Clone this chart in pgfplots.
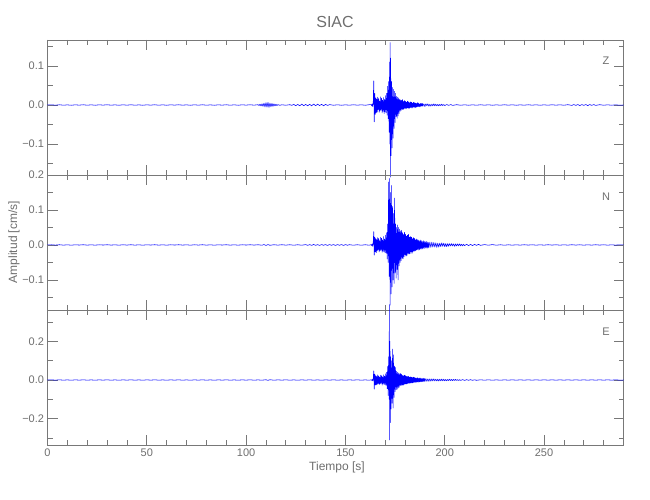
\documentclass[border=0pt]{standalone}
\usepackage{pgfplots}
\pgfplotsset{compat=1.18}
\usepackage{fontspec}
\setmainfont{Liberation Sans}
\definecolor{axgray}{RGB}{120,120,120}
\definecolor{txtgray}{RGB}{110,110,110}
\pgfplotsset{
  seis/.style={
    scale only axis, width=576pt, height=135pt,
    xmin=0, xmax=290, clip=false,
    axis line style={draw=axgray, line width=0.8pt},
    every tick/.style={draw=axgray, line width=0.8pt},
    tick align=inside,
    major tick length=10pt, minor tick length=5pt,
    xtick={0,50,...,250}, minor xtick={0,10,...,280},
    xtick pos=both, ytick pos=both, yticklabel pos=left, xticklabel pos=bottom,
    tick label style={font=\fontsize{11}{11}\selectfont, text=txtgray},
    /pgf/number format/assume math mode=true,
  },
  trace/.style={blue, line width=0.55pt, line join=round}
}
\begin{document}
\begin{tikzpicture}
\useasboundingbox (0,0) rectangle (650pt,500pt);
% ---------------- Z ----------------
\begin{axis}[seis, at={(47.5pt,325pt)}, anchor=south west,
  ymin=-0.1795, ymax=0.1667,
  ytick={-0.1,0,0.1}, yticklabels={−0.1,0.0,0.1},
  minor ytick={-0.15,-0.05,0.05,0.15},
  xticklabels={}]
\addplot[trace] table {
t v
0 0.000
2 0.0005
4 -0.0004
6 0.0006
8 -0.0005
10 0.0003
12 -0.0006
14 0.0004
16 -0.0003
18 0.0006
20 -0.0005
22 0.0004
24 -0.0006
26 0.0005
28 -0.0003
30 0.0006
32 -0.0004
34 0.0003
36 -0.0006
38 0.0005
40 -0.0004
42 0.0006
44 -0.0005
46 0.0003
48 -0.0006
50 0.0004
52 -0.0003
54 0.0006
56 -0.0005
58 0.0004
60 -0.0006
62 0.0005
64 -0.0003
66 0.0006
68 -0.0004
70 0.0003
72 -0.0006
74 0.0005
76 -0.0004
78 0.0006
80 -0.0005
82 0.0003
84 -0.0006
86 0.0004
88 -0.0003
90 0.0006
92 -0.0005
94 0.0004
96 -0.0006
98 0.0005
100 -0.0003
102 0.0006
104 -0.0004
106 0.0008
106.5 -0.0015
107 0.0020
107.5 -0.0025
108 0.0030
108.5 -0.0035
109 0.0045
109.5 -0.0050
110 0.0060
110.5 -0.0055
111 0.0065
111.5 -0.0060
112 0.0050
112.5 -0.0045
113 0.0040
113.5 -0.0035
114 0.0030
114.5 -0.0025
115 0.0020
115.5 -0.0015
116 0.0010
117 -0.0008
118 0.0006
120 -0.0006
122 0.0008
123 -0.0010
124 0.0015
125 -0.0018
126 0.0015
127 -0.0020
128 0.0022
129 -0.0018
130 0.0015
131 -0.0020
132 0.0018
133 -0.0022
134 0.0025
135 -0.0018
136 0.0020
137 -0.0015
138 0.0018
139 -0.0020
140 0.0015
141 -0.0012
142 0.0010
144 -0.0006
146 0.0005
148 -0.0006
150 0.0004
152 -0.0005
154 0.0006
156 -0.0004
158 0.0005
160 -0.0006
162 0.0008
163.00 0.001
163.25 -0.002
163.50 0.003
163.75 -0.004
164.00 0.006
164.25 0.062
164.50 -0.043
164.75 0.030
165.00 -0.024
165.25 0.018
165.50 -0.020
165.75 0.015
166.00 -0.018
166.25 0.020
166.50 -0.012
166.75 0.016
167.00 -0.019
167.25 0.010
167.50 -0.015
167.75 0.021
168.00 -0.013
168.25 0.017
168.50 -0.020
168.75 0.012
169.00 -0.016
169.25 0.019
169.50 -0.022
169.75 0.014
170.00 -0.018
170.25 0.024
170.50 -0.020
170.75 0.030
171.00 -0.026
171.25 0.048
171.50 -0.035
171.75 0.060
172.00 -0.070
172.25 0.110
172.40 -0.100
172.50 0.160
172.60 -0.185
172.75 0.120
173.00 -0.130
173.25 0.060
173.50 -0.110
173.75 0.045
174.00 -0.085
174.25 0.040
174.50 -0.060
174.75 0.035
175.00 -0.045
175.25 0.030
175.50 -0.030
175.75 0.022
176.00 -0.034
176.25 0.020
176.50 -0.028
176.75 0.018
177.00 -0.022
177.25 0.015
177.50 -0.016
177.75 0.013
178.00 -0.014
178.25 0.012
178.50 -0.011
178.75 0.014
179.00 -0.012
179.25 0.009
179.50 -0.010
179.75 0.011
180.00 -0.008
180.25 0.009
180.50 -0.010
180.75 0.007
181.00 -0.008
181.25 0.010
181.50 -0.007
181.75 0.008
182.00 -0.009
182.25 0.006
182.50 -0.007
182.75 0.008
183.00 -0.006
183.25 0.007
183.50 -0.008
183.75 0.005
184.00 -0.006
184.25 0.007
184.50 -0.005
184.75 0.006
185.00 -0.007
185.25 0.005
185.5 -0.006
185.75 0.004
186 -0.005
186.25 0.006
186.5 -0.004
186.75 0.005
187 -0.004
187.25 0.003
187.5 -0.005
187.75 0.004
188 -0.003
188.25 0.004
188.5 -0.003
188.75 0.004
189 -0.003
189.5 0.003
190 -0.004
190.5 0.003
191 -0.002
191.5 0.003
192 -0.003
192.5 0.002
193 -0.003
193.5 0.002
194 -0.002
194.5 0.003
195 -0.002
195.5 0.002
196 -0.002
196.5 0.0015
197 -0.002
197.5 0.0015
198 -0.0015
198.5 0.002
199 -0.0015
199.5 0.0012
200 -0.0015
201 0.0012
202 -0.0010
203 0.0012
204 -0.0010
206 0.0008
208 -0.0006
210 0.0005
212 -0.0006
214 0.0004
216 -0.0005
218 0.0006
220 -0.0004
222 0.0005
224 -0.0006
226 0.0004
228 -0.0005
230 0.0006
232 -0.0004
234 0.0005
236 -0.0006
238 0.0004
240 -0.0005
242 0.0006
244 -0.0004
246 0.0005
248 -0.0006
250 0.0004
252 -0.0005
254 0.0006
256 -0.0004
258 0.0005
260 -0.0006
262 0.0008
264 -0.0010
265 0.0012
266 -0.0010
267 0.0012
268 -0.0015
269 0.0012
270 -0.0010
271 0.0012
272 -0.0015
273 0.0012
274 -0.0010
275 0.0012
276 -0.0010
278 0.0008
280 -0.0006
282 0.0005
284 -0.0006
286 0.0004
288 -0.0005
290 0.000
};
\end{axis}
% ---------------- N ----------------
\begin{axis}[seis, at={(47.5pt,190pt)}, anchor=south west,
  ymin=-0.186, ymax=0.2,
  ytick={-0.1,0,0.1,0.2}, yticklabels={−0.1,0.0,0.1,0.2},
  minor ytick={-0.15,-0.05,0.05,0.15},
  xticklabels={}]
\addplot[trace] table {
t v
0 0.000
2 0.0005
4 -0.0004
6 0.0006
8 -0.0005
10 0.0003
12 -0.0006
14 0.0004
16 -0.0003
18 0.0006
20 -0.0005
22 0.0004
24 -0.0006
26 0.0005
28 -0.0003
30 0.0006
32 -0.0004
34 0.0003
36 -0.0006
38 0.0005
40 -0.0004
42 0.0006
44 -0.0005
46 0.0003
48 -0.0006
50 0.0004
52 -0.0003
54 0.0006
56 -0.0005
58 0.0004
60 -0.0006
62 0.0005
64 -0.0003
66 0.0006
68 -0.0004
70 0.0003
72 -0.0006
74 0.0005
76 -0.0004
78 0.0006
80 -0.0005
82 0.0003
84 -0.0006
86 0.0004
88 -0.0003
90 0.0006
92 -0.0005
94 0.0004
96 -0.0006
98 0.0005
100 -0.0003
102 0.0006
104 -0.0004
106 0.0006
108 -0.0008
109 0.0012
110 -0.0015
111 0.0012
112 -0.0010
114 0.0006
116 -0.0005
118 0.0006
120 -0.0005
122 0.0006
124 -0.0008
126 0.0006
128 -0.0008
130 0.0010
131 -0.0012
132 0.0010
133 -0.0012
134 0.0015
135 -0.0012
136 0.0010
137 -0.0015
138 0.0012
139 -0.0010
140 0.0012
141 -0.0015
142 0.0012
143 -0.0010
144 0.0012
145 -0.0015
146 0.0012
147 -0.0010
148 0.0012
149 -0.0015
150 0.0012
151 -0.0010
152 0.0008
154 -0.0008
156 0.0006
158 -0.0008
160 0.0006
162 -0.0008
163.00 0.001
163.25 -0.002
163.50 0.003
163.75 -0.004
164.00 0.008
164.25 0.038
164.50 -0.029
164.75 0.022
165.00 -0.020
165.25 0.018
165.50 -0.022
165.75 0.015
166.00 -0.017
166.25 0.021
166.50 -0.014
166.75 0.018
167.00 -0.020
167.25 0.012
167.50 -0.016
167.75 0.022
168.00 -0.015
168.25 0.019
168.50 -0.021
168.75 0.014
169.00 -0.018
169.25 0.024
169.50 -0.020
169.75 0.016
170.00 -0.022
170.25 0.028
170.50 -0.024
170.75 0.035
171.00 -0.040
171.25 0.060
171.50 -0.050
171.75 0.180
172.00 -0.090
172.25 0.190
172.50 -0.172
172.75 0.150
173.00 -0.140
173.25 0.170
173.50 -0.120
173.75 0.110
174.00 -0.100
174.25 0.090
174.50 -0.110
174.75 0.134
175.00 -0.080
175.25 0.060
175.50 -0.095
175.75 0.050
176.00 -0.070
176.25 0.057
176.50 -0.100
176.75 0.050
177.00 -0.060
177.25 0.045
177.50 -0.050
177.75 0.040
178.00 -0.045
178.25 0.042
178.50 -0.038
178.75 0.035
179.00 -0.040
179.25 0.030
179.50 -0.034
179.75 0.036
180.00 -0.028
180.25 0.030
180.50 -0.032
180.75 0.025
181.00 -0.030
181.25 0.028
181.50 -0.024
181.75 0.030
182.00 -0.026
182.25 0.022
182.50 -0.025
182.75 0.024
183.00 -0.020
183.25 0.022
183.50 -0.024
183.75 0.018
184.00 -0.020
184.25 0.021
184.50 -0.017
184.75 0.019
185.00 -0.018
185.25 0.015
185.5 -0.016
185.75 0.017
186 -0.014
186.25 0.015
186.5 -0.013
186.75 0.014
187 -0.015
187.25 0.012
187.5 -0.013
187.75 0.014
188 -0.011
188.25 0.012
188.5 -0.012
188.75 0.010
189 -0.011
189.25 0.012
189.5 -0.009
189.75 0.010
190 -0.010
190.25 0.009
190.5 -0.008
190.75 0.010
191 -0.009
191.25 0.008
191.5 -0.009
191.75 0.007
192 -0.008
192.5 0.008
193 -0.007
193.5 0.008
194 -0.006
194.5 0.007
195 -0.006
195.5 0.006
196 -0.007
196.5 0.005
197 -0.006
197.5 0.005
198 -0.005
198.5 0.006
199 -0.004
199.5 0.005
200 -0.005
200.5 0.004
201 -0.005
201.5 0.004
202 -0.004
202.5 0.004
203 -0.003
203.5 0.004
204 -0.003
204.5 0.003
205 -0.004
205.5 0.003
206 -0.003
206.5 0.003
207 -0.0025
207.5 0.003
208 -0.0025
208.5 0.002
209 -0.0025
209.5 0.002
210 -0.002
211 0.002
212 -0.0018
213 0.0015
214 -0.0018
215 0.0015
216 -0.0012
217 0.0015
218 -0.0012
220 0.0010
222 -0.0008
224 0.0010
226 -0.0008
228 0.0006
230 -0.0008
232 0.0005
234 -0.0006
236 0.0004
238 -0.0005
240 0.0006
242 -0.0004
244 0.0005
246 -0.0006
248 0.0004
250 -0.0005
252 0.0006
254 -0.0004
256 0.0005
258 -0.0006
260 0.0004
262 -0.0005
264 0.0006
266 -0.0004
268 0.0005
270 -0.0006
272 0.0004
274 -0.0005
276 0.0006
278 -0.0004
280 0.0005
282 -0.0006
284 0.0004
286 -0.0005
288 0.0004
290 0.000
};
\end{axis}
% ---------------- E ----------------
\begin{axis}[seis, at={(47.5pt,55pt)}, anchor=south west,
  ymin=-0.336, ymax=0.362,
  ytick={-0.2,0,0.2}, yticklabels={−0.2,0.0,0.2},
  minor ytick={-0.3,-0.1,0.1,0.3},
  xticklabels={0,50,100,150,200,250}]
\addplot[trace] table {
t v
0 0.000
2 0.0008
4 -0.0006
6 0.0010
8 -0.0008
10 0.0006
12 -0.0010
14 0.0008
16 -0.0006
18 0.0010
20 -0.0008
22 0.0006
24 -0.0010
26 0.0008
28 -0.0006
30 0.0010
32 -0.0008
34 0.0006
36 -0.0010
38 0.0008
40 -0.0006
42 0.0010
44 -0.0008
46 0.0006
48 -0.0010
50 0.0008
52 -0.0006
54 0.0010
56 -0.0008
58 0.0006
60 -0.0010
62 0.0008
64 -0.0006
66 0.0010
68 -0.0008
70 0.0006
72 -0.0010
74 0.0008
76 -0.0006
78 0.0010
80 -0.0008
82 0.0006
84 -0.0010
86 0.0008
88 -0.0006
90 0.0010
92 -0.0008
94 0.0006
96 -0.0010
98 0.0008
100 -0.0006
102 0.0010
104 -0.0008
106 0.0006
108 -0.0010
110 0.0015
111 -0.0018
112 0.0015
114 -0.0010
116 0.0008
118 -0.0006
120 0.0010
122 -0.0008
124 0.0006
126 -0.0010
128 0.0008
130 -0.0006
132 0.0010
134 -0.0008
136 0.0006
138 -0.0010
140 0.0008
142 -0.0006
144 0.0010
146 -0.0008
148 0.0006
150 -0.0010
152 0.0008
154 -0.0006
156 0.0010
158 -0.0008
160 0.0006
162 -0.0010
163.00 0.001
163.25 -0.002
163.50 0.003
163.75 -0.004
164.00 0.008
164.25 0.047
164.50 -0.047
164.75 0.030
165.00 -0.026
165.25 0.022
165.50 -0.025
165.75 0.018
166.00 -0.022
166.25 0.026
166.50 -0.018
166.75 0.020
167.00 -0.024
167.25 0.015
167.50 -0.020
167.75 0.025
168.00 -0.017
168.25 0.022
168.50 -0.026
168.75 0.016
169.00 -0.020
169.25 0.027
169.50 -0.023
169.75 0.020
170.00 -0.025
170.25 0.032
170.50 -0.028
170.75 0.040
171.00 -0.045
171.25 0.070
171.50 -0.080
171.75 0.120
172.00 -0.100
172.10 0.390
172.25 -0.310
172.40 0.200
172.60 -0.220
172.75 0.120
173.00 -0.150
173.25 0.100
173.50 -0.120
173.75 0.160
174.00 -0.145
174.25 0.130
174.50 -0.090
174.75 0.070
175.00 -0.060
175.25 0.065
175.50 -0.050
175.75 0.045
176.00 -0.048
176.25 0.040
176.50 -0.042
176.75 0.036
177.00 -0.038
177.25 0.032
177.50 -0.030
177.75 0.034
178.00 -0.028
178.25 0.030
178.50 -0.026
178.75 0.024
179.00 -0.027
179.25 0.022
179.50 -0.024
179.75 0.025
180.00 -0.020
180.25 0.022
180.50 -0.021
180.75 0.019
181.00 -0.020
181.25 0.018
181.50 -0.017
181.75 0.019
182.00 -0.016
182.25 0.015
182.50 -0.017
182.75 0.016
183.00 -0.014
183.25 0.015
183.50 -0.016
183.75 0.013
184.00 -0.014
184.25 0.015
184.50 -0.012
184.75 0.013
185.00 -0.012
185.25 0.011
185.5 -0.012
185.75 0.010
186 -0.011
186.25 0.012
186.5 -0.010
186.75 0.009
187 -0.011
187.25 0.010
187.5 -0.009
187.75 0.010
188 -0.009
188.25 0.008
188.5 -0.009
188.75 0.008
189 -0.008
189.25 0.009
189.5 -0.007
189.75 0.008
190 -0.008
190.5 0.007
191 -0.007
191.5 0.006
192 -0.007
192.5 0.006
193 -0.006
193.5 0.006
194 -0.005
194.5 0.006
195 -0.005
195.5 0.005
196 -0.005
196.5 0.004
197 -0.005
197.5 0.004
198 -0.004
198.5 0.005
199 -0.004
199.5 0.004
200 -0.004
200.5 0.003
201 -0.004
201.5 0.003
202 -0.003
202.5 0.004
203 -0.003
203.5 0.003
204 -0.003
204.5 0.003
205 -0.0025
205.5 0.003
206 -0.0025
206.5 0.002
207 -0.0025
207.5 0.002
208 -0.002
209 0.002
210 -0.002
211 0.0018
212 -0.0015
213 0.0018
214 -0.0015
215 0.0012
216 -0.0015
218 0.0012
220 -0.0010
222 0.0012
224 -0.0010
226 0.0008
228 -0.0010
230 0.0008
232 -0.0006
234 0.0008
236 -0.0006
238 0.0008
240 -0.0006
242 0.0008
244 -0.0006
246 0.0008
248 -0.0006
250 0.0008
252 -0.0006
254 0.0008
256 -0.0006
258 0.0008
260 -0.0006
262 0.0008
264 -0.0006
266 0.0008
268 -0.0006
270 0.0008
272 -0.0006
274 0.0008
276 -0.0006
278 0.0008
280 -0.0006
282 0.0008
284 -0.0006
286 0.0008
288 -0.0006
290 0.000
};
\end{axis}
% ---------------- text ----------------
\node[text=txtgray, font=\fontsize{16}{16}\selectfont] at (335pt,478pt) {SIAC};
\node[text=txtgray, font=\fontsize{12}{12}\selectfont] at (337pt,33pt) {Tiempo [s]};
\node[text=txtgray, font=\fontsize{12}{12}\selectfont, rotate=90] at (14pt,258pt) {Amplitud [cm/s]};
\node[text=txtgray, font=\fontsize{11}{11}\selectfont] at (606pt,439pt) {Z};
\node[text=txtgray, font=\fontsize{11}{11}\selectfont] at (606pt,303pt) {N};
\node[text=txtgray, font=\fontsize{11}{11}\selectfont] at (606pt,168pt) {E};
\end{tikzpicture}
\end{document}
